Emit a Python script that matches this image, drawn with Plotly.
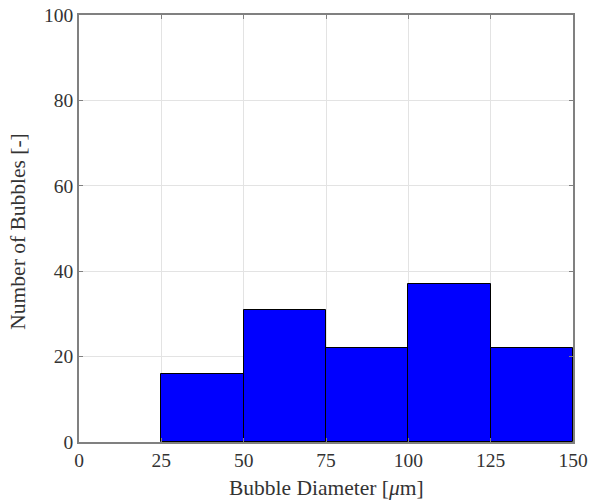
import plotly.graph_objects as go

# Histogram bins (bubble diameter, µm) and counts per bin
bin_left = [25, 50, 75, 100, 125]
bin_width = 25
counts = [16, 31, 22, 37, 22]

x_ticks = [0, 25, 50, 75, 100, 125, 150]
y_ticks = [0, 20, 40, 60, 80, 100]

centers = [b + bin_width / 2 for b in bin_left]

fig = go.Figure(
    go.Bar(
        x=centers,
        y=counts,
        width=[bin_width] * len(counts),
        marker=dict(color="#0000ff", line=dict(color="#000000", width=1)),
    )
)

serif = "Liberation Serif, Times New Roman, serif"

axis_common = dict(
    showline=True,
    linecolor="#808080",
    linewidth=1.5,
    mirror="ticks",
    ticks="inside",
    ticklen=4,
    tickcolor="#808080",
    showgrid=True,
    gridcolor="#e3e3e3",
    gridwidth=1,
    zeroline=False,
    automargin=False,
    tickfont=dict(family=serif, size=19.5, color="#333333"),
)

fig.update_xaxes(range=[0, 150], tickvals=x_ticks, **axis_common)
fig.update_yaxes(range=[0, 100], tickvals=y_ticks, **axis_common)

# Axis titles
title_font = dict(family=serif, size=21.5, color="#333333")
fig.add_annotation(
    text="Bubble Diameter [<i>μ</i>m]",
    xref="paper", yref="paper", x=0.5, y=-0.108,
    xanchor="center", yanchor="middle",
    showarrow=False, font=title_font,
)
fig.add_annotation(
    text="Number of Bubbles [-]",
    xref="paper", yref="paper", x=-0.124, y=0.492,
    xanchor="center", yanchor="middle", textangle=-90,
    showarrow=False, font=title_font,
)

fig.update_layout(
    width=589,
    height=503,
    margin=dict(l=79, r=16, t=15, b=61),
    plot_bgcolor="white",
    paper_bgcolor="white",
    showlegend=False,
    bargap=0,
)

fig.write_html("out.html")
